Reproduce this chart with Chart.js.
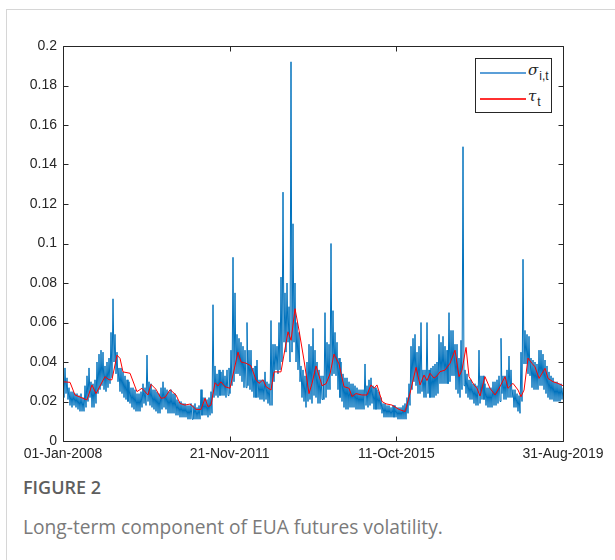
<!DOCTYPE html>
<html>
<head>
<meta charset="utf-8">
<script src="https://cdn.jsdelivr.net/npm/chart.js@4.4.1/dist/chart.umd.min.js"></script>
<style>
    html, body { margin: 0; padding: 0; background: #fff; }
    #page { position: relative; width: 615px; height: 560px; overflow: hidden; }
    #frameTop { position: absolute; left: 6px; top: 9px; width: 609px; height: 1px; background: #d6d6d6; }
    #frameLeft { position: absolute; left: 6px; top: 9px; width: 1px; height: 551px; background: #d6d6d6; }
    #chartBox { position: absolute; left: 0; top: 0; width: 615px; height: 470px; }
    #legend { position: absolute; left: 475px; top: 58px; width: 75px; height: 53px; border: 1px solid #262626; background: #fff; color: #262626; }
    .lgLine { position: absolute; left: 4px; width: 46px; height: 2px; }
    .lgText { position: absolute; left: 52px; font-family: "DejaVu Serif", "Liberation Serif", serif; font-style: italic; font-size: 15px; line-height: 15px; white-space: nowrap; }
    .lgText sub { font-family: "Liberation Sans", Arial, sans-serif; font-style: normal; font-size: 12px; vertical-align: -5px; line-height: 0; margin-left: 1px; }
    #figLabel { position: absolute; left: 23px; top: 475px; font-family: "Open Sans", "Noto Sans", sans-serif; font-weight: 600; font-size: 18px; color: #5e5e5e; }
    #figCaption { position: absolute; left: 23px; top: 513px; font-family: "Open Sans", "Noto Sans", sans-serif; font-size: 19.2px; color: #7a7a7a; }
</style>
</head>
<body>
<div id="page">
    <div id="frameTop"></div>
    <div id="frameLeft"></div>
    <div id="chartBox"><canvas id="volChart" width="615" height="470"></canvas></div>
    <div id="legend">
        <div class="lgLine" style="top:13px;background:#5b9fd8;"></div>
        <div class="lgText" style="top:4px;">&sigma;<sub>i,t</sub></div>
        <div class="lgLine" style="top:39px;background:#ff3030;"></div>
        <div class="lgText" style="top:30px;">&tau;<sub>t</sub></div>
    </div>
    <div id="figLabel">FIGURE 2</div>
    <div id="figCaption">Long-term component of EUA futures volatility.</div>
</div>
<script>
// x axis runs in days since 01-Jan-2008
const totalDays = 4260;
const xTickDays = [0, 1420, 2840, 4260];
const xTickLabels = ['01-Jan-2008', '21-Nov-2011', '11-Oct-2015', '31-Aug-2019'];
const yTicks = [0, 0.02, 0.04, 0.06, 0.08, 0.1, 0.12, 0.14, 0.16, 0.18, 0.2];

// sigma_i,t : daily volatility at an even step,
// upper and lower edge of the band at each step (spikes sit in the upper edge)
const sigmaHigh = [
    0.030, 0.037, 0.032, 0.027, 0.025, 0.025, 0.024, 0.024, 0.023, 0.024,
    0.022, 0.028, 0.033, 0.037, 0.030, 0.029, 0.031, 0.040, 0.044, 0.046,
    0.045, 0.038, 0.040, 0.042, 0.055, 0.072, 0.054, 0.045, 0.037, 0.037,
    0.035, 0.033, 0.031, 0.030, 0.027, 0.027, 0.026, 0.024, 0.024, 0.025,
    0.029, 0.027, 0.0435, 0.030, 0.029, 0.026, 0.026, 0.025, 0.024, 0.027,
    0.030, 0.027, 0.026, 0.025, 0.026, 0.024, 0.024, 0.021, 0.020, 0.020,
    0.019, 0.019, 0.018, 0.018, 0.019, 0.018, 0.019, 0.017, 0.018, 0.026,
    0.022, 0.022, 0.021, 0.022, 0.025, 0.069, 0.038, 0.034, 0.036, 0.035,
    0.036, 0.033, 0.036, 0.037, 0.046, 0.093, 0.075, 0.054, 0.052, 0.050,
    0.048, 0.046, 0.060, 0.046, 0.046, 0.037, 0.038, 0.041, 0.031, 0.031,
    0.031, 0.035, 0.030, 0.029, 0.061, 0.049, 0.049, 0.048, 0.060, 0.083,
    0.126, 0.075, 0.080, 0.068, 0.192, 0.110, 0.080, 0.060, 0.055, 0.038,
    0.036, 0.033, 0.040, 0.049, 0.048, 0.057, 0.046, 0.040, 0.036, 0.033,
    0.033, 0.065, 0.050, 0.049, 0.100, 0.066, 0.055, 0.050, 0.042, 0.040,
    0.034, 0.032, 0.032, 0.030, 0.029, 0.029, 0.028, 0.027, 0.026, 0.026,
    0.026, 0.039, 0.028, 0.031, 0.032, 0.028, 0.027, 0.026, 0.025, 0.022,
    0.019, 0.019, 0.018, 0.018, 0.017, 0.018, 0.018, 0.017, 0.017, 0.017,
    0.018, 0.019, 0.022, 0.029, 0.048, 0.052, 0.054, 0.045, 0.048, 0.060,
    0.036, 0.036, 0.060, 0.036, 0.037, 0.038, 0.039, 0.040, 0.054, 0.050,
    0.053, 0.048, 0.046, 0.065, 0.056, 0.056, 0.049, 0.049, 0.042, 0.051,
    0.149, 0.036, 0.034, 0.031, 0.031, 0.029, 0.029, 0.028, 0.046, 0.033,
    0.033, 0.029, 0.027, 0.027, 0.027, 0.030, 0.030, 0.031, 0.033, 0.052,
    0.033, 0.033, 0.036, 0.043, 0.036, 0.026, 0.026, 0.024, 0.023, 0.045,
    0.092, 0.056, 0.054, 0.053, 0.042, 0.041, 0.040, 0.039, 0.046, 0.046,
    0.044, 0.041, 0.038, 0.035, 0.033, 0.032, 0.030, 0.030, 0.029, 0.029,
    0.027
];
const sigmaLow = [
    0.022, 0.024, 0.021, 0.018, 0.017, 0.018, 0.017, 0.016, 0.015, 0.015,
    0.015, 0.017, 0.020, 0.022, 0.017, 0.017, 0.019, 0.024, 0.026, 0.028,
    0.026, 0.025, 0.027, 0.029, 0.032, 0.040, 0.034, 0.030, 0.025, 0.024,
    0.022, 0.021, 0.020, 0.019, 0.017, 0.016, 0.015, 0.015, 0.015, 0.017,
    0.019, 0.018, 0.020, 0.018, 0.017, 0.016, 0.015, 0.014, 0.014, 0.016,
    0.017, 0.016, 0.014, 0.014, 0.014, 0.014, 0.013, 0.013, 0.012, 0.012,
    0.012, 0.012, 0.011, 0.011, 0.011, 0.011, 0.011, 0.011, 0.011, 0.013,
    0.013, 0.013, 0.012, 0.013, 0.014, 0.022, 0.023, 0.022, 0.023, 0.023,
    0.023, 0.022, 0.023, 0.024, 0.028, 0.030, 0.034, 0.034, 0.033, 0.030,
    0.027, 0.027, 0.028, 0.026, 0.025, 0.022, 0.022, 0.022, 0.021, 0.021,
    0.020, 0.021, 0.019, 0.018, 0.018, 0.030, 0.036, 0.034, 0.036, 0.040,
    0.050, 0.045, 0.050, 0.040, 0.045, 0.050, 0.040, 0.036, 0.030, 0.022,
    0.020, 0.017, 0.020, 0.021, 0.019, 0.023, 0.022, 0.019, 0.019, 0.021,
    0.021, 0.022, 0.026, 0.026, 0.033, 0.034, 0.033, 0.026, 0.022, 0.020,
    0.017, 0.016, 0.016, 0.017, 0.017, 0.017, 0.016, 0.016, 0.016, 0.016,
    0.016, 0.018, 0.017, 0.018, 0.019, 0.016, 0.016, 0.016, 0.016, 0.014,
    0.012, 0.012, 0.012, 0.012, 0.012, 0.012, 0.012, 0.011, 0.011, 0.011,
    0.011, 0.011, 0.014, 0.018, 0.026, 0.030, 0.028, 0.024, 0.024, 0.025,
    0.022, 0.022, 0.024, 0.022, 0.022, 0.022, 0.023, 0.024, 0.029, 0.029,
    0.029, 0.029, 0.029, 0.030, 0.033, 0.033, 0.026, 0.024, 0.022, 0.026,
    0.028, 0.024, 0.022, 0.021, 0.021, 0.019, 0.018, 0.018, 0.019, 0.021,
    0.021, 0.018, 0.017, 0.017, 0.017, 0.018, 0.018, 0.019, 0.020, 0.024,
    0.021, 0.021, 0.022, 0.022, 0.022, 0.017, 0.017, 0.015, 0.014, 0.020,
    0.039, 0.039, 0.034, 0.033, 0.027, 0.026, 0.026, 0.026, 0.028, 0.028,
    0.026, 0.024, 0.022, 0.021, 0.021, 0.020, 0.020, 0.020, 0.020, 0.021,
    0.022
];

// tau_t : long-term component, turning points (day, value)
const tauDays = [
    0, 60, 102, 204, 247, 281, 358, 392, 417, 460, 486, 511, 571, 630, 673,
    724, 750, 792, 835, 869, 912, 963, 997, 1039, 1082, 1108, 1133, 1176, 1210, 1235,
    1261, 1295, 1321, 1346, 1380, 1423, 1491, 1517, 1559, 1602, 1644, 1670, 1704, 1730, 1772,
    1798, 1857, 1917, 1943, 1977, 2011, 2053, 2096, 2121, 2156, 2207, 2241, 2275, 2309, 2352,
    2394, 2437, 2462, 2496, 2547, 2590, 2624, 2650, 2675, 2718, 2752, 2803, 2863, 2914, 2956,
    3008, 3042, 3076, 3101, 3127, 3161, 3186, 3212, 3255, 3297, 3340, 3374, 3399, 3434, 3459,
    3502, 3527, 3553, 3595, 3638, 3681, 3723, 3766, 3791, 3834, 3877, 3902, 3928, 3962, 3996,
    4021, 4056, 4107, 4132, 4175, 4217, 4260
];
const tauVals = [
    0.030, 0.0297, 0.0233, 0.0208, 0.0284, 0.024, 0.0326, 0.031, 0.031, 0.0435, 0.0418, 0.035, 0.0343, 0.025, 0.0267,
    0.0233, 0.0287, 0.0262, 0.0216, 0.022, 0.026, 0.0233, 0.019, 0.0182, 0.0187, 0.0174, 0.016, 0.016, 0.0216, 0.0174,
    0.0182, 0.0295, 0.0279, 0.030, 0.0275, 0.0267, 0.045, 0.040, 0.0394, 0.038, 0.031, 0.0292, 0.031, 0.0275, 0.0258,
    0.035, 0.035, 0.0553, 0.051, 0.067, 0.056, 0.041, 0.024, 0.029, 0.038, 0.028, 0.029, 0.034, 0.044, 0.039,
    0.0275, 0.0267, 0.0225, 0.024, 0.0233, 0.0233, 0.0284, 0.0267, 0.0284, 0.020, 0.0188, 0.0182, 0.016, 0.0149, 0.024,
    0.0373, 0.0284, 0.0334, 0.0306, 0.0343, 0.0318, 0.0329, 0.0351, 0.0359, 0.0393, 0.046, 0.0326, 0.0359, 0.0474, 0.0326,
    0.0284, 0.0267, 0.0228, 0.0326, 0.0267, 0.0233, 0.0275, 0.0326, 0.0267, 0.0292, 0.0258, 0.0224, 0.0258, 0.042, 0.0393,
    0.0376, 0.0317, 0.0368, 0.0317, 0.030, 0.0292, 0.028
];

// band edges alternate so the daily series reads as a dense band
const sigmaStep = totalDays / (sigmaHigh.length - 1);
const sigmaData = [];
sigmaHigh.forEach((v, i) => {
    sigmaData.push({ x: i * sigmaStep, y: v });
    sigmaData.push({ x: (i + 0.5) * sigmaStep, y: sigmaLow[i] });
});
const tauData = tauDays.map((d, i) => ({ x: d, y: tauVals[i] }));

const AXIS_COLOR = '#262626';
const tickFont = { family: '"Liberation Sans", Arial, Helvetica, sans-serif', size: 14 };

/**
 * MATLAB style box: all four sides with inward ticks
 */
const boxPlugin = {
    id: 'matlabBox',
    afterDatasetsDraw(chart) {
        const { ctx, chartArea: a, scales } = chart;
        const tl = 5;
        ctx.save();
        ctx.strokeStyle = AXIS_COLOR;
        ctx.lineWidth = 1;
        ctx.beginPath();
        const L = Math.round(a.left) + 0.5, R = Math.round(a.right) + 0.5;
        const T = Math.round(a.top) + 0.5, B = Math.round(a.bottom) + 0.5;
        ctx.rect(L, T, R - L, B - T);
        xTickDays.forEach(d => {
            const px = Math.round(scales.x.getPixelForValue(d)) + 0.5;
            ctx.moveTo(px, B); ctx.lineTo(px, B - tl);
            ctx.moveTo(px, T); ctx.lineTo(px, T + tl);
        });
        yTicks.forEach(v => {
            const py = Math.round(scales.y.getPixelForValue(v)) + 0.5;
            ctx.moveTo(L, py); ctx.lineTo(L + tl, py);
            ctx.moveTo(R, py); ctx.lineTo(R - tl, py);
        });
        ctx.stroke();
        ctx.restore();
    }
};

let volChart = new Chart(document.getElementById('volChart'), {
    type: 'line',
    data: {
        datasets: [
            {
                label: 'sigma',
                data: sigmaData,
                borderColor: '#0072bd',
                borderWidth: 1,
                pointRadius: 0,
                tension: 0,
                order: 2
            },
            {
                label: 'tau',
                data: tauData,
                borderColor: '#ff0000',
                borderWidth: 1,
                pointRadius: 0,
                tension: 0,
                order: 1
            }
        ]
    },
    options: {
        responsive: false,
        animation: false,
        devicePixelRatio: 1,
        layout: { padding: { top: 46, right: 52, left: 0, bottom: 0 } },
        plugins: {
            legend: { display: false },
            tooltip: { enabled: false }
        },
        scales: {
            x: {
                type: 'linear',
                min: 0,
                max: totalDays,
                grid: { display: false, drawTicks: false },
                border: { display: false },
                afterBuildTicks: (scale) => { scale.ticks = xTickDays.map(v => ({ value: v })); },
                afterFit: (scale) => { scale.height = 29; },
                ticks: {
                    color: AXIS_COLOR,
                    font: tickFont,
                    padding: 5,
                    maxRotation: 0,
                    autoSkip: false,
                    callback: (v, i) => xTickLabels[i]
                }
            },
            y: {
                min: 0,
                max: 0.2,
                grid: { display: false, drawTicks: false },
                border: { display: false },
                afterBuildTicks: (scale) => { scale.ticks = yTicks.map(v => ({ value: v })); },
                afterFit: (scale) => { scale.width = 63; },
                ticks: {
                    color: AXIS_COLOR,
                    font: tickFont,
                    padding: 6,
                    autoSkip: false,
                    callback: (v) => String(+v.toFixed(2))
                }
            }
        }
    },
    plugins: [boxPlugin]
});
</script>
</body>
</html>
